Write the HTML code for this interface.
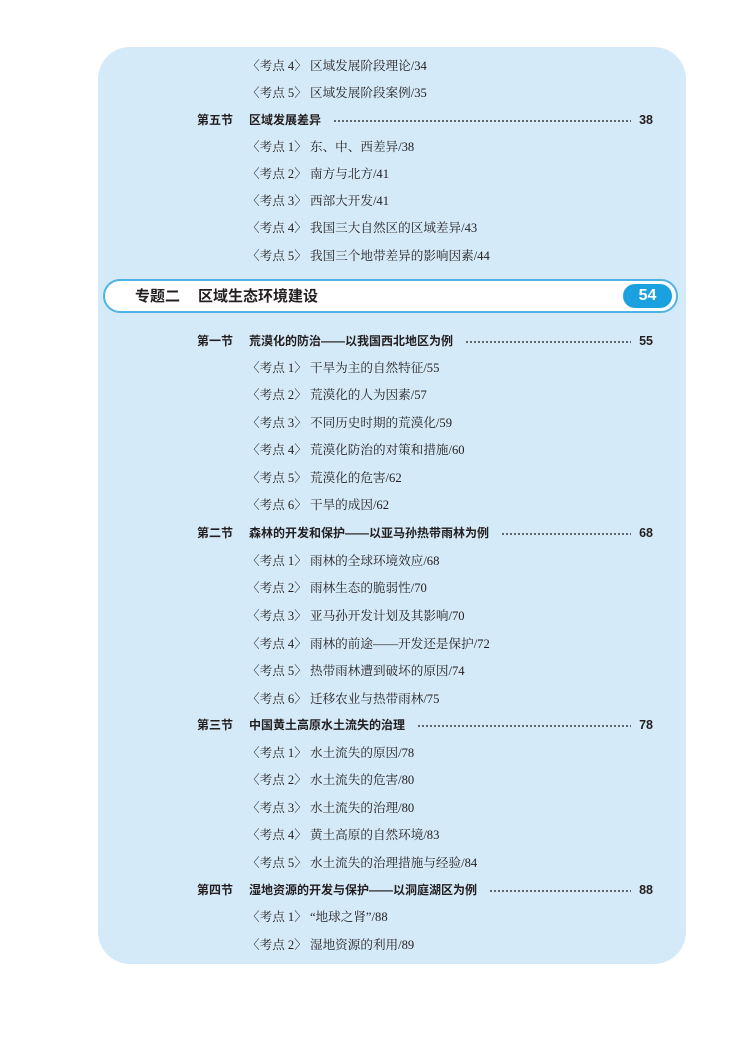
<!DOCTYPE html>
<html><head><meta charset="utf-8">
<style>
*{margin:0;padding:0;box-sizing:border-box}
body{width:750px;height:1055px;background:#fff;position:relative;overflow:hidden;font-family:"Liberation Serif","Noto Serif CJK SC","Noto Sans CJK SC",serif;color:#231f20}
.panel{position:absolute;left:98px;top:47px;width:588px;height:917px;background:#d5eaf8;border-radius:32px}
.r{position:absolute;height:16px;line-height:16px;font-size:12px;white-space:nowrap}
.k{left:247px;font-size:12.6px}
.s{left:197px;width:456px;display:flex;font-family:"Liberation Sans","Noto Sans CJK SC",sans-serif;font-weight:bold}
.s .l{width:52px}
.s .d{flex:1;margin:0 8px 0 12px;background-image:radial-gradient(circle,#333 0.75px,transparent 1.1px);background-size:4px 4px;background-repeat:repeat-x;background-position:0 7px}
.s .n{font-weight:bold;font-size:12.5px}
.ban{position:absolute;left:103px;top:279px;width:575px;height:34px;background:#fff;border:2px solid #4fb3e8;border-radius:17px}
.ban .t{position:absolute;top:7px;font-family:"Liberation Sans","Noto Sans CJK SC",sans-serif;font-weight:bold;font-size:15px;line-height:18px}
.pill{position:absolute;left:518px;top:3px;width:49px;height:24px;background:#1ba1e0;border-radius:12px;color:#fff;font-family:"Liberation Sans",sans-serif;font-weight:bold;font-size:16px;line-height:24px;text-align:center}
</style></head><body>
<div class="panel"></div>

<div class="r k" style="top:58px">〈考点 4〉 区域发展阶段理论/34</div>
<div class="r k" style="top:85px">〈考点 5〉 区域发展阶段案例/35</div>
<div class="r s" style="top:112px"><span class="l">第五节</span><span>区域发展差异</span><span class="d"></span><span class="n">38</span></div>
<div class="r k" style="top:139px">〈考点 1〉 东、中、西差异/38</div>
<div class="r k" style="top:166px">〈考点 2〉 南方与北方/41</div>
<div class="r k" style="top:193px">〈考点 3〉 西部大开发/41</div>
<div class="r k" style="top:220px">〈考点 4〉 我国三大自然区的区域差异/43</div>
<div class="r k" style="top:248px">〈考点 5〉 我国三个地带差异的影响因素/44</div>

<div class="ban"><span class="t" style="left:30px">专题二</span><span class="t" style="left:93px">区域生态环境建设</span><div class="pill">54</div></div>

<div class="r s" style="top:333px"><span class="l">第一节</span><span>荒漠化的防治——以我国西北地区为例</span><span class="d"></span><span class="n">55</span></div>
<div class="r k" style="top:360px">〈考点 1〉 干旱为主的自然特征/55</div>
<div class="r k" style="top:387px">〈考点 2〉 荒漠化的人为因素/57</div>
<div class="r k" style="top:415px">〈考点 3〉 不同历史时期的荒漠化/59</div>
<div class="r k" style="top:442px">〈考点 4〉 荒漠化防治的对策和措施/60</div>
<div class="r k" style="top:470px">〈考点 5〉 荒漠化的危害/62</div>
<div class="r k" style="top:497px">〈考点 6〉 干旱的成因/62</div>

<div class="r s" style="top:525px"><span class="l">第二节</span><span>森林的开发和保护——以亚马孙热带雨林为例</span><span class="d"></span><span class="n">68</span></div>
<div class="r k" style="top:553px">〈考点 1〉 雨林的全球环境效应/68</div>
<div class="r k" style="top:580px">〈考点 2〉 雨林生态的脆弱性/70</div>
<div class="r k" style="top:608px">〈考点 3〉 亚马孙开发计划及其影响/70</div>
<div class="r k" style="top:636px">〈考点 4〉 雨林的前途——开发还是保护/72</div>
<div class="r k" style="top:663px">〈考点 5〉 热带雨林遭到破坏的原因/74</div>
<div class="r k" style="top:691px">〈考点 6〉 迁移农业与热带雨林/75</div>

<div class="r s" style="top:717px"><span class="l">第三节</span><span>中国黄土高原水土流失的治理</span><span class="d"></span><span class="n">78</span></div>
<div class="r k" style="top:745px">〈考点 1〉 水土流失的原因/78</div>
<div class="r k" style="top:772px">〈考点 2〉 水土流失的危害/80</div>
<div class="r k" style="top:800px">〈考点 3〉 水土流失的治理/80</div>
<div class="r k" style="top:827px">〈考点 4〉 黄土高原的自然环境/83</div>
<div class="r k" style="top:855px">〈考点 5〉 水土流失的治理措施与经验/84</div>

<div class="r s" style="top:882px"><span class="l">第四节</span><span>湿地资源的开发与保护——以洞庭湖区为例</span><span class="d"></span><span class="n">88</span></div>
<div class="r k" style="top:909px">〈考点 1〉 “地球之肾”/88</div>
<div class="r k" style="top:937px">〈考点 2〉 湿地资源的利用/89</div>
</body></html>
